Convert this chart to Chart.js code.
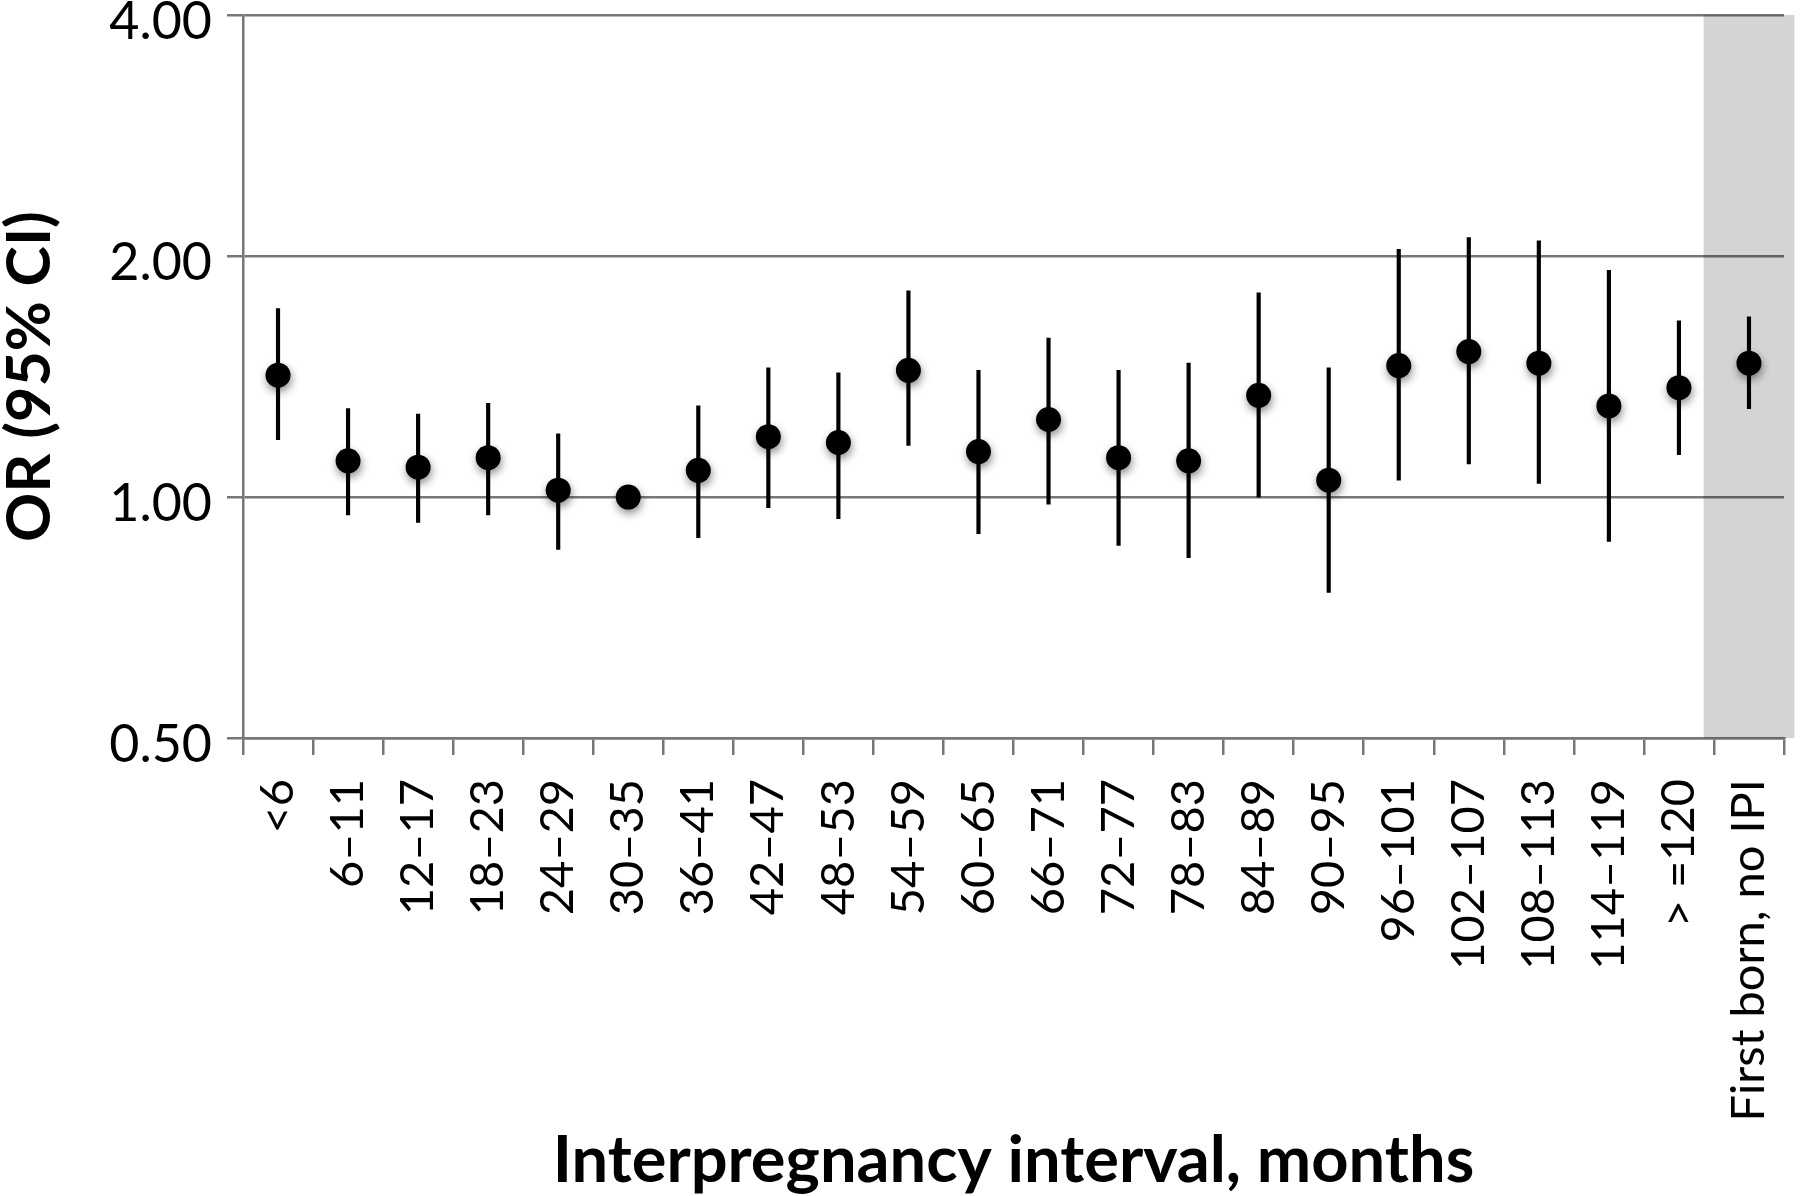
<!DOCTYPE html>
<html>
<head>
<meta charset="utf-8">
<script src="https://cdn.jsdelivr.net/npm/chart.js@4.4.1/dist/chart.umd.min.js"></script>
<style>
  html, body { margin: 0; padding: 0; background: #ffffff; }
  #wrap { width: 1800px; height: 1196px; }
</style>
</head>
<body>
<div id="wrap"><canvas id="c" width="1800" height="1196"></canvas></div>
<script>
const categories = ['<6','6–11','12–17','18–23','24–29','30–35','36–41','42–47','48–53','54–59','60–65','66–71','72–77','78–83','84–89','90–95','96–101','102–107','108–113','114–119','> =120','First born, no IPI'];
const oddsRatio = [1.42, 1.11, 1.09, 1.12, 1.02, 1.00, 1.08, 1.19, 1.17, 1.44, 1.14, 1.25, 1.12, 1.11, 1.34, 1.05, 1.46, 1.52, 1.47, 1.30, 1.37, 1.47];
const ciLower  = [1.18, 0.95, 0.93, 0.95, 0.86, 1.00, 0.89, 0.97, 0.94, 1.16, 0.90, 0.98, 0.87, 0.84, 1.00, 0.76, 1.05, 1.10, 1.04, 0.88, 1.13, 1.29];
const ciUpper  = [1.72, 1.29, 1.27, 1.31, 1.20, 1.00, 1.30, 1.45, 1.43, 1.81, 1.44, 1.58, 1.44, 1.47, 1.80, 1.45, 2.04, 2.11, 2.09, 1.92, 1.66, 1.68];
const yTicks = [0.5, 1, 2, 4];
const shadedCategory = 'First born, no IPI';
const yMin = 0.5, yMax = 4;

const ciBars = categories.map((c, i) => [ciLower[i], ciUpper[i]]);
const bandBars = categories.map(c => c === shadedCategory ? [yMin, yMax] : null);

const gridColor = '#777777';

const shadowPlugin = {
  id: 'dotShadow',
  beforeDatasetDraw(chart, args) {
    if (args.meta.type === 'line') {
      const ctx = chart.ctx;
      ctx.save();
      ctx.shadowColor = 'rgba(0,0,0,0.45)';
      ctx.shadowBlur = 9;
      ctx.shadowOffsetX = 1;
      ctx.shadowOffsetY = 4;
    }
  },
  afterDatasetDraw(chart, args) {
    if (args.meta.type === 'line') chart.ctx.restore();
  }
};

new Chart(document.getElementById('c'), {
  type: 'bar',
  data: {
    labels: categories,
    datasets: [
      {
        type: 'line',
        label: 'OR',
        data: oddsRatio,
        showLine: false,
        pointRadius: 12.5,
        pointHoverRadius: 12.5,
        pointBackgroundColor: '#000000',
        pointBorderWidth: 0,
        order: 0
      },
      {
        label: '95% CI',
        data: ciBars,
        backgroundColor: '#000000',
        borderWidth: 0,
        barThickness: 3.5,
        grouped: false,
        order: 1
      },
      {
        label: 'band',
        data: bandBars,
        backgroundColor: 'rgba(0,0,0,0.17)',
        borderWidth: 0,
        barThickness: 90,
        grouped: false,
        clip: false,
        order: 2
      }
    ]
  },
  options: {
    responsive: false,
    animation: false,
    devicePixelRatio: 1,
    layout: { padding: { top: 15, right: 16, bottom: 0, left: 0 } },
    plugins: {
      legend: { display: false },
      tooltip: { enabled: false }
    },
    scales: {
      x: {
        type: 'category',
        offset: true,
        grid: {
          display: true,
          drawOnChartArea: false,
          offset: true,
          drawTicks: true,
          tickLength: 17,
          color: gridColor,
          lineWidth: 2.5
        },
        border: { display: true, color: gridColor, width: 2.5 },
        ticks: {
          autoSkip: false,
          maxRotation: 90,
          minRotation: 90,
          padding: 24,
          color: '#000000',
          font: { family: 'Lato', size: 47, lineHeight: 0.3 }
        },
        title: {
          display: true,
          text: 'Interpregnancy interval, months',
          color: '#000000',
          font: { family: 'Lato', size: 65, weight: 'bold', lineHeight: 1 },
          padding: { top: 0, bottom: 2 }
        },
        afterFit(scale) { scale.height = 458; }
      },
      y: {
        type: 'logarithmic',
        min: yMin,
        max: yMax,
        afterBuildTicks(scale) { scale.ticks = yTicks.map(v => ({ value: v })); },
        grid: {
          color: gridColor,
          lineWidth: 2.5,
          drawTicks: true,
          tickLength: 16
        },
        border: { display: true, color: gridColor, width: 2.5 },
        ticks: {
          padding: 15,
          labelOffset: 7,
          color: '#000000',
          font: { family: 'Lato', size: 52, lineHeight: 0.01 },
          callback: v => Number(v).toFixed(2)
        },
        title: {
          display: true,
          text: 'OR (95% CI)',
          color: '#000000',
          font: { family: 'Lato', size: 61, weight: 'bold', lineHeight: 1 },
          padding: { top: 0, bottom: 0 }
        },
        afterFit(scale) { scale.width = 243; }
      }
    }
  },
  plugins: [shadowPlugin]
});
</script>
</body>
</html>
